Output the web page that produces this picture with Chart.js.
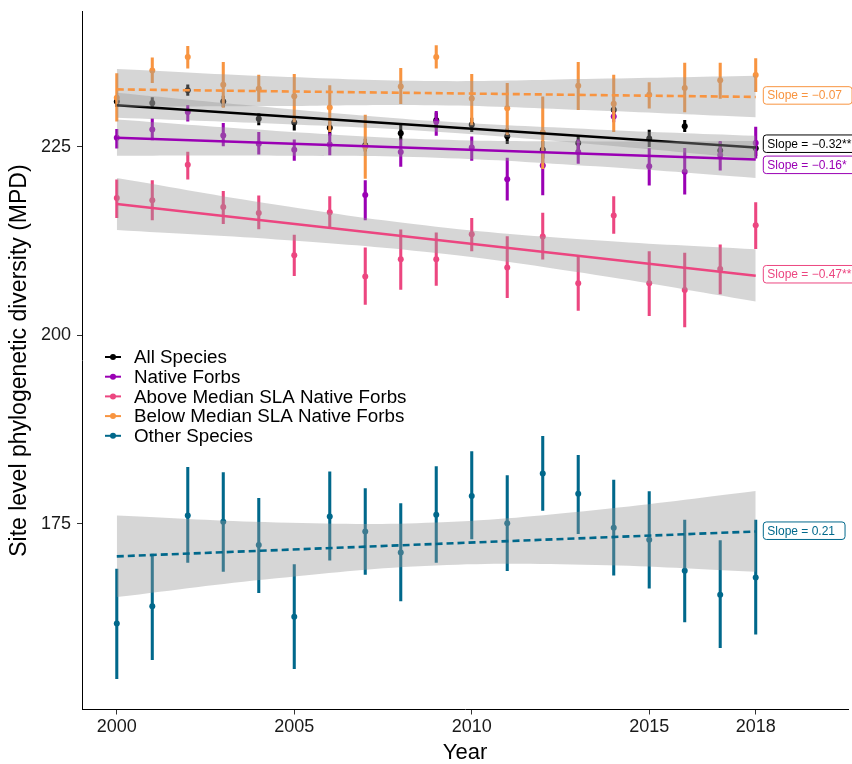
<!DOCTYPE html>
<html lang="en">
<head>
  <meta charset="UTF-8" />
  <title>Site level phylogenetic diversity (MPD)</title>
  <script src="https://cdn.jsdelivr.net/npm/chart.js"></script>
  <style>
    html, body { margin: 0; padding: 0; background: #fff; }
    #wrap { width: 852px; height: 764px; }
  </style>
</head>
<body>
  <div id="wrap"><canvas id="mpdChart" width="852" height="764"></canvas></div>

  <script>
    // years sampled
    const years = [2000, 2001, 2002, 2003, 2004, 2005, 2006, 2007, 2008, 2009,
                   2010, 2011, 2012, 2013, 2014, 2015, 2016, 2017, 2018];
    const xTicks = [2000, 2005, 2010, 2015, 2018];
    const yTicks = [175, 200, 225];

    // mean MPD per year and the ends of the error bars
    const allMean = [231.0, 230.8, 232.5, 231.0, 228.7, 228.2, 227.5, 225.2, 226.8, 228.5, 227.9, 226.4, 224.6, 225.5, 229.9, 226.1, 227.7, 224.5, 224.8];
    const allLow  = [230.3, 230.1, 231.8, 230.3, 227.9, 227.2, 226.5, 224.4, 225.9, 227.5, 227.0, 225.4, 223.5, 224.5, 229.0, 225.0, 227.0, 223.4, 223.8];
    const allHigh = [231.7, 231.5, 233.2, 231.7, 229.4, 229.0, 228.3, 226.0, 228.1, 229.5, 228.8, 227.4, 225.7, 226.5, 230.8, 227.2, 228.5, 225.6, 225.8];

    const nativeMean = [226.2, 227.3, 229.6, 226.5, 225.4, 224.6, 225.3, 218.6, 224.3, 228.3, 224.9, 220.7, 222.5, 224.3, 229.0, 222.4, 221.7, 223.9, 225.5];
    const nativeLow  = [224.8, 225.9, 228.4, 225.1, 224.0, 223.2, 223.9, 215.3, 222.4, 226.5, 223.2, 217.9, 218.6, 222.8, 228.3, 219.9, 218.7, 221.9, 223.5];
    const nativeHigh = [227.3, 228.7, 230.5, 228.1, 226.9, 225.9, 226.8, 220.5, 225.9, 229.7, 226.3, 223.5, 224.8, 225.9, 229.7, 224.8, 224.8, 225.7, 227.6];

    const aboveMean = [218.2, 217.9, 222.6, 217.0, 216.2, 210.6, 216.3, 207.8, 210.1, 210.1, 213.4, 209.0, 213.1, 206.9, 215.9, 206.9, 206.0, 208.8, 214.6];
    const aboveLow  = [215.6, 215.3, 220.7, 214.8, 214.1, 207.9, 214.4, 204.1, 206.1, 206.6, 211.2, 205.0, 210.1, 203.3, 213.5, 202.6, 201.1, 205.5, 211.5];
    const aboveHigh = [220.6, 220.5, 224.3, 219.1, 218.5, 213.3, 218.4, 211.6, 214.0, 213.6, 215.5, 213.1, 216.2, 210.4, 218.4, 211.1, 210.9, 212.0, 217.6];

    const belowMean = [231.5, 235.1, 236.9, 233.2, 232.7, 231.7, 230.2, 225.0, 233.0, 236.9, 231.4, 230.1, 226.9, 233.1, 230.7, 231.9, 232.8, 233.8, 234.5];
    const belowLow  = [228.4, 233.5, 235.4, 230.2, 231.0, 228.3, 227.0, 220.8, 230.7, 235.4, 227.9, 226.6, 222.1, 229.9, 227.0, 230.1, 229.6, 231.4, 232.3];
    const belowHigh = [234.7, 236.8, 238.3, 236.2, 234.5, 234.6, 233.1, 229.2, 235.4, 238.4, 234.6, 233.4, 231.6, 236.2, 234.5, 233.5, 236.1, 236.1, 236.7];

    const otherMean = [161.8, 164.1, 176.1, 175.3, 172.2, 162.7, 176.0, 174.0, 171.2, 176.2, 178.7, 175.1, 181.7, 179.0, 174.5, 172.9, 168.8, 165.6, 167.9];
    const otherLow  = [154.5, 157.0, 169.9, 168.7, 165.9, 155.8, 170.2, 168.3, 164.8, 169.9, 173.0, 168.8, 176.8, 173.7, 168.2, 166.5, 162.0, 158.6, 160.4];
    const otherHigh = [169.0, 171.0, 182.5, 181.8, 178.4, 169.6, 181.9, 179.7, 177.7, 182.6, 184.6, 181.4, 186.6, 184.1, 180.8, 179.3, 175.5, 172.8, 175.5];

    // fitted line ends (2000, 2018)
    const fitYears = [2000, 2018];
    const allFit = [230.5, 224.9];
    const nativeFit = [226.2, 223.3];
    const aboveFit = [217.4, 207.9];
    const belowFit = [232.6, 231.6];
    const otherFit = [170.7, 174.0];

    // confidence band read at a few years
    const bandYears = [2000, 2004.5, 2009, 2013.5, 2018];
    const allUpper = [232.15, 230.15, 228.4, 227.3, 226.45];
    const allLower = [228.85, 228.05, 227.0, 225.3, 223.35];
    const nativeUpper = [228.6, 227.1, 225.95, 225.7, 225.75];
    const nativeLower = [223.8, 223.8, 223.55, 222.4, 220.85];
    const aboveUpper = [220.85, 217.3, 214.4, 212.6, 211.4];
    const aboveLower = [213.95, 212.7, 210.9, 208.0, 204.5];
    const belowUpper = [235.3, 234.3, 233.7, 234.0, 234.4];
    const belowLower = [230.3, 230.4, 230.5, 229.8, 228.9];
    const otherUpper = [176.1, 175.2, 175.2, 176.85, 179.35];
    const otherLower = [165.3, 167.8, 169.5, 169.55, 168.65];

    const seriesNames = ['All Species', 'Native Forbs', 'Above Median SLA Native Forbs', 'Below Median SLA Native Forbs', 'Other Species'];
    const seriesColors = ['#000000', '#9a00b4', '#ec4680', '#f89440', '#00688b'];
    const slopeText = ['Slope = \u22120.32**', 'Slope = \u22120.16*', 'Slope = \u22120.47**', 'Slope = \u22120.07', 'Slope = 0.21'];
    const slopeLabelY = [225.4, 222.6, 208.1, 231.8, 174.1];
    const dashed = [false, false, false, true, true];

    const means = [allMean, nativeMean, aboveMean, belowMean, otherMean];
    const lows = [allLow, nativeLow, aboveLow, belowLow, otherLow];
    const highs = [allHigh, nativeHigh, aboveHigh, belowHigh, otherHigh];
    const fits = [allFit, nativeFit, aboveFit, belowFit, otherFit];
    const uppers = [allUpper, nativeUpper, aboveUpper, belowUpper, otherUpper];
    const lowers = [allLower, nativeLower, aboveLower, belowLower, otherLower];

    const FONT = "'Liberation Sans', Arial, Helvetica, sans-serif";
    const datasets = [];

    // error bars and points first (they end up under the bands)
    seriesNames.forEach((name, k) => {
      datasets.push({
        type: 'bar',
        label: name + ' range',
        data: years.map((yr, i) => ({ x: yr, y: [lows[k][i], highs[k][i]] })),
        backgroundColor: seriesColors[k],
        borderWidth: 0,
        barThickness: 2.4,
        grouped: false,
        order: 60 - 2 * k
      });
      datasets.push({
        type: 'scatter',
        label: name,
        data: years.map((yr, i) => ({ x: yr, y: means[k][i] })),
        pointRadius: 3,
        pointBackgroundColor: seriesColors[k],
        pointBorderWidth: 0,
        order: 59 - 2 * k
      });
    });

    // bands + fitted lines
    seriesNames.forEach((name, k) => {
      datasets.push({
        type: 'line',
        label: name + ' upper',
        data: bandYears.map((yr, i) => ({ x: yr, y: uppers[k][i] })),
        borderWidth: 0,
        pointRadius: 0,
        tension: 0.4,
        fill: '+1',
        backgroundColor: 'rgba(153,153,153,0.4)',
        order: 30 - 3 * k
      });
      datasets.push({
        type: 'line',
        label: name + ' lower',
        data: bandYears.map((yr, i) => ({ x: yr, y: lowers[k][i] })),
        borderWidth: 0,
        pointRadius: 0,
        tension: 0.4,
        fill: false,
        order: 30 - 3 * k
      });
      datasets.push({
        type: 'line',
        label: name + ' fit',
        data: fitYears.map((yr, i) => ({ x: yr, y: fits[k][i] })),
        borderColor: seriesColors[k],
        borderWidth: 2.6,
        borderDash: dashed[k] ? [7, 4] : [],
        pointRadius: 0,
        fill: false,
        order: 29 - 3 * k
      });
    });

    // boxed slope labels beside the line ends
    const slopeLabels = {
      id: 'slopeLabels',
      afterDatasetsDraw(chart) {
        const { ctx, scales: { x, y } } = chart;
        ctx.save();
        ctx.font = '12px ' + FONT;
        ctx.textBaseline = 'middle';
        seriesNames.forEach((n, k) => {
          const px = x.getPixelForValue(2018.2);
          const py = y.getPixelForValue(slopeLabelY[k]);
          const w = ctx.measureText(slopeText[k]).width + 14;
          const h = 17.5;
          ctx.beginPath();
          ctx.roundRect(px + 0.5, py - h / 2, w, h, 3);
          ctx.fillStyle = '#fff';
          ctx.fill();
          ctx.strokeStyle = seriesColors[k];
          ctx.lineWidth = 1;
          ctx.stroke();
          ctx.fillStyle = seriesColors[k];
          ctx.fillText(slopeText[k], px + 4.5, py + 0.5);
        });
        ctx.restore();
      }
    };

    // ggplot-like legend inside the panel
    const insideLegend = {
      id: 'insideLegend',
      afterDraw(chart) {
        const { ctx } = chart;
        const top = 357, step = 19.7;
        ctx.save();
        ctx.font = '18.8px ' + FONT;
        ctx.textBaseline = 'middle';
        seriesNames.forEach((n, k) => {
          const cy = top + k * step;
          ctx.strokeStyle = seriesColors[k];
          ctx.lineWidth = 2;
          ctx.beginPath();
          ctx.moveTo(105, cy);
          ctx.lineTo(121, cy);
          ctx.stroke();
          ctx.fillStyle = seriesColors[k];
          ctx.beginPath();
          ctx.arc(113, cy, 3, 0, Math.PI * 2);
          ctx.fill();
          ctx.fillStyle = '#000';
          ctx.fillText(n, 134, cy + 1);
        });
        ctx.restore();
      }
    };

    new Chart(document.getElementById('mpdChart'), {
      type: 'scatter',
      data: { datasets },
      options: {
        responsive: false,
        animation: false,
        layout: { padding: { top: 11.7, right: 0, bottom: 0, left: 0 } },
        plugins: {
          legend: { display: false },
          tooltip: { enabled: false }
        },
        scales: {
          x: {
            type: 'linear',
            min: 1999.02,
            max: 2020.6,
            offset: false,
            afterFit: s => { s.height = 54.5; s.paddingLeft = 0; s.paddingRight = 0; },
            afterBuildTicks: s => { s.ticks = xTicks.map(v => ({ value: v })); },
            grid: { display: true, offset: false, drawOnChartArea: false, drawTicks: true, tickLength: 5, color: '#333' },
            border: { display: true, color: '#000', width: 1 },
            ticks: { padding: 2, color: '#1a1a1a', font: { family: FONT, size: 18 }, maxRotation: 0, autoSkip: false, callback: v => String(v) },
            title: { display: true, text: 'Year', color: '#000', padding: { top: 0, bottom: 0 }, font: { family: FONT, size: 22, lineHeight: 1.0 } }
          },
          y: {
            min: 150.4,
            max: 242.9,
            afterFit: s => { s.width = 82; s.paddingTop = 0; s.paddingBottom = 0; },
            afterBuildTicks: s => { s.ticks = yTicks.map(v => ({ value: v })); },
            grid: { display: true, offset: false, drawOnChartArea: false, drawTicks: true, tickLength: 5, color: '#333' },
            border: { display: true, color: '#000', width: 1 },
            ticks: { padding: 6, color: '#1a1a1a', font: { family: FONT, size: 18, lineHeight: 0.7 }, callback: v => String(v) },
            title: { display: true, text: 'Site level phylogenetic diversity (MPD)', color: '#000', padding: { top: 8, bottom: 0 }, font: { family: FONT, size: 23, lineHeight: 1.0 } }
          }
        }
      },
      plugins: [slopeLabels, insideLegend]
    });
  </script>
</body>
</html>
